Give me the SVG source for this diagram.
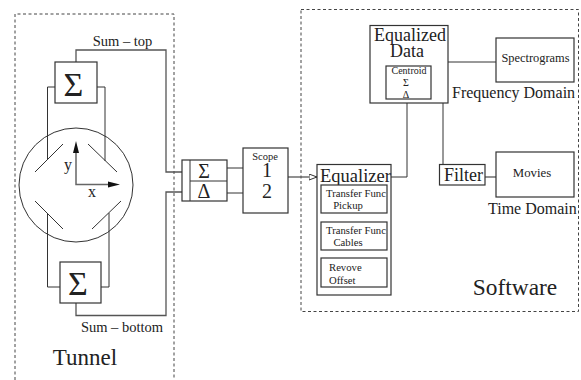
<svg xmlns="http://www.w3.org/2000/svg" width="581" height="380" viewBox="0 0 581 380">
<style>
text{font-family:"Liberation Serif",serif;fill:#222}
.l{fill:none;stroke:#333;stroke-width:1}
.g{fill:none;stroke:#555;stroke-width:1.3}
.d{fill:none;stroke:#444;stroke-width:1;stroke-dasharray:3 2.5}
.b{fill:#fff;stroke:#333;stroke-width:1.2}
.m{text-anchor:middle}
</style>
<defs><marker id="o" markerWidth="10" markerHeight="8" refX="8" refY="3" orient="auto" markerUnits="userSpaceOnUse"><path d="M0 0L8 3L0 6Z" fill="#fff" stroke="#333" stroke-width="1"/></marker></defs>
<g id="frames">
<polyline class="d" points="15,380 15,14 174,14 174,380"/>
<rect class="d" x="301" y="9.500" width="277.500" height="302"/>
</g>
<g id="connectors">
<polyline class="g" points="76,62 76,50 166,50 166,172 182,172"/>
<polyline class="g" points="76,303 76,315.500 166,315.500 166,192 182,192"/>
<polyline class="l" points="55,87 47.500,87 47.500,160"/>
<polyline class="l" points="97,87 105,87 105,161"/>
<polyline class="l" points="60,287 47.500,287 47.500,213"/>
<polyline class="l" points="101,287 109,287 109,213"/>
<line class="l" x1="227" y1="168" x2="243" y2="168"/>
<line class="l" x1="227" y1="193" x2="243" y2="193"/>
<line class="g" x1="288" y1="177" x2="317" y2="177" marker-end="url(#o)"/>
<polyline class="l" points="391,177 407,177 407,103"/>
<line class="l" x1="443" y1="103" x2="443" y2="164"/>
<line class="l" x1="448" y1="62" x2="496" y2="62"/>
<line class="g" x1="485" y1="177" x2="496" y2="177"/>
</g>
<g id="tunnel-ring">
<circle class="l" cx="76" cy="185" r="57"/>
<line class="l" x1="35" y1="172" x2="63" y2="144"/>
<line class="l" x1="88" y1="144" x2="117" y2="172"/>
<line class="l" x1="35" y1="201" x2="63" y2="229"/>
<line class="l" x1="92" y1="229" x2="121" y2="201"/>
<polyline fill="none" stroke="#666" stroke-width="1.5" points="76,146 76,184.500 114,184.500"/>
<path d="M76 141L73 153H79Z M120 184.500L108 181.500V187.500Z" fill="#111"/>
<text x="68" y="170" font-size="16" class="m">y</text>
<text x="92" y="197" font-size="16" class="m">x</text>
</g>
<g id="sum-top"><rect class="b" x="55" y="62" width="42" height="41"/><text x="73.500" y="96" font-size="34" class="m">Σ</text></g>
<g id="sum-bottom"><rect class="b" x="60" y="262" width="41" height="41"/><text x="78" y="295" font-size="34" class="m">Σ</text></g>
<text x="122.500" y="46" font-size="14.500" class="m">Sum – top</text>
<text x="122" y="332" font-size="14.500" class="m">Sum – bottom</text>
<text x="85" y="365" font-size="23" class="m">Tunnel</text>
<g id="hybrid">
<rect class="b" x="182" y="160" width="45" height="41"/>
<line class="l" x1="190" y1="160" x2="190" y2="201"/>
<line class="l" x1="190" y1="181" x2="227" y2="181"/>
<text x="204" y="178" font-size="20" class="m">Σ</text>
<text x="204" y="198" font-size="20" class="m">Δ</text>
</g>
<g id="scope">
<rect class="b" x="243" y="148" width="45" height="65"/>
<text x="265" y="160" font-size="10.500" class="m">Scope</text>
<text x="267" y="177" font-size="20" class="m">1</text>
<text x="267" y="198" font-size="20" class="m">2</text>
</g>
<g id="equalizer">
<rect class="b" x="317" y="164.500" width="74" height="130.500"/>
<text x="355.500" y="182" font-size="18.500" class="m">Equalizer</text>
<rect class="b" x="321" y="185" width="66" height="28"/>
<text x="356" y="197" font-size="10.700" class="m">Transfer Func</text>
<text x="348" y="209" font-size="10.700" class="m">Pickup</text>
<rect class="b" x="321" y="222" width="66" height="28"/>
<text x="356" y="234" font-size="10.700" class="m">Transfer Func</text>
<text x="348" y="246" font-size="10.700" class="m">Cables</text>
<rect class="b" x="321" y="258" width="66" height="29"/>
<text x="329" y="271" font-size="10.700">Revove</text>
<text x="329" y="284" font-size="10.700">Offset</text>
</g>
<g id="equalized-data">
<rect class="b" x="370" y="25.500" width="78" height="77.500"/>
<text x="410" y="41" font-size="18" class="m">Equalized</text>
<text x="407" y="57" font-size="18" class="m">Data</text>
<rect class="b" x="386" y="66" width="45" height="33"/>
<text x="409" y="74" font-size="10" class="m">Centroid</text>
<text x="406" y="86" font-size="10" class="m">Σ</text>
<text x="406" y="98" font-size="10" class="m">Δ</text>
</g>
<g id="spectrograms">
<rect class="b" x="496" y="38" width="78" height="44"/>
<text x="535.500" y="62" font-size="12.400" class="m">Spectrograms</text>
</g>
<text x="452" y="98" font-size="16">Frequency Domain</text>
<g id="filter">
<rect class="b" x="439.500" y="164.500" width="45.500" height="20.500"/>
<text x="463.500" y="181" font-size="18" class="m">Filter</text>
</g>
<g id="movies">
<rect class="b" x="496" y="152" width="78" height="45"/>
<text x="532" y="177" font-size="12.800" class="m">Movies</text>
</g>
<text x="488" y="214" font-size="16">Time Domain</text>
<text x="515" y="295" font-size="23.400" class="m">Software</text>
</svg>
